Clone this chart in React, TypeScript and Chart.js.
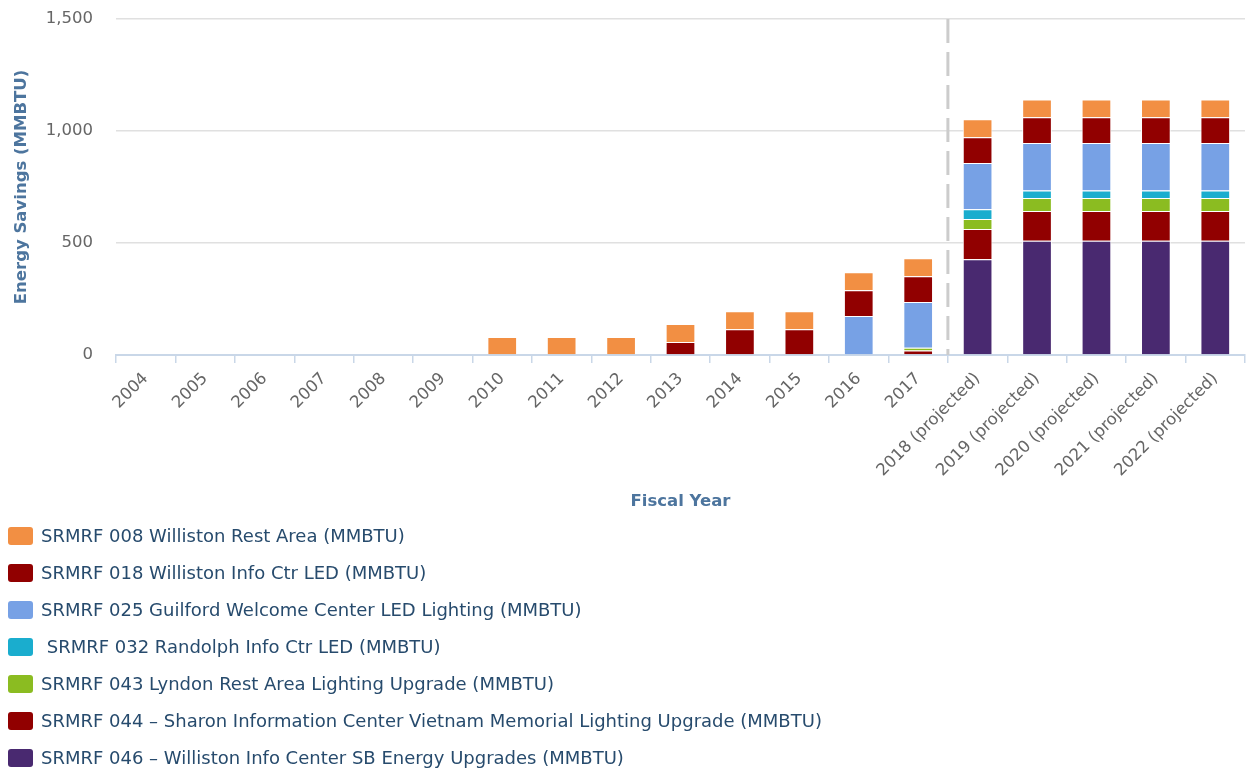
import React, { useEffect, useRef } from 'react';
import { Chart, registerables } from 'chart.js';

Chart.register(...registerables);

const categories = [
  '2004', '2005', '2006', '2007', '2008', '2009', '2010', '2011', '2012', '2013',
  '2014', '2015', '2016', '2017',
  '2018 (projected)', '2019 (projected)', '2020 (projected)', '2021 (projected)', '2022 (projected)',
];

// series values, one per category (MMBTU)
const s008 = [0, 0, 0, 0, 0, 0, 80, 80, 80, 80, 80, 80, 80, 80, 80, 80, 80, 80, 80];
const s018 = [0, 0, 0, 0, 0, 0, 0, 0, 0, 58, 115, 115, 115, 115, 115, 115, 115, 115, 115];
const s025 = [0, 0, 0, 0, 0, 0, 0, 0, 0, 0, 0, 0, 174, 205, 206, 212, 212, 212, 212];
const s032 = [0, 0, 0, 0, 0, 0, 0, 0, 0, 0, 0, 0, 0, 0, 44, 33, 33, 33, 33];
const s043 = [0, 0, 0, 0, 0, 0, 0, 0, 0, 0, 0, 0, 0, 12, 45, 58, 58, 58, 58];
const s044 = [0, 0, 0, 0, 0, 0, 0, 0, 0, 0, 0, 0, 0, 20, 134, 133, 133, 133, 133];
const s046 = [0, 0, 0, 0, 0, 0, 0, 0, 0, 0, 0, 0, 0, 0, 428, 510, 510, 510, 510];

const seriesLabels = [
  'SRMRF 008 Williston Rest Area (MMBTU)',
  'SRMRF 018 Williston Info Ctr LED (MMBTU)',
  'SRMRF 025 Guilford Welcome Center LED Lighting (MMBTU)',
  ' SRMRF 032 Randolph Info Ctr LED (MMBTU)',
  'SRMRF 043 Lyndon Rest Area Lighting Upgrade (MMBTU)',
  'SRMRF 044 \u2013 Sharon Information Center Vietnam Memorial Lighting Upgrade (MMBTU)',
  'SRMRF 046 \u2013 Williston Info Center SB Energy Upgrades (MMBTU)',
];
const seriesData = [s008, s018, s025, s032, s043, s044, s046];
const seriesColors = ['#f28f43', '#910000', '#77a1e5', '#1aadce', '#8bbc21', '#910000', '#492970'];

const yTicks = [0, 500, 1000, 1500];
const yTitle = 'Energy Savings (MMBTU)';
const xTitle = 'Fiscal Year';
const projectionStart = '2018 (projected)';

const FONT = '"DejaVu Sans", "Lucida Grande", Verdana, sans-serif';

const projectionLine = {
  id: 'projectionLine',
  beforeDatasetsDraw(chart: any) {
    const xs = chart.scales.x;
    const idx = categories.indexOf(projectionStart);
    const x = (xs.getPixelForValue(idx - 1) + xs.getPixelForValue(idx)) / 2;
    const { top, bottom } = chart.chartArea;
    const ctx = chart.ctx;
    ctx.save();
    ctx.strokeStyle = '#cccccc';
    ctx.lineWidth = 3;
    ctx.setLineDash([24, 9]);
    ctx.beginPath();
    ctx.moveTo(x, top);
    ctx.lineTo(x, bottom);
    ctx.stroke();
    ctx.restore();
  },
};

export default function App() {
  const ref = useRef<HTMLCanvasElement>(null);

  useEffect(() => {
    if (!ref.current) return;
    // Highcharts stacks the first series on top; Chart.js stacks the first dataset at the bottom.
    const datasets = seriesLabels
      .map((label, i) => ({
        label,
        data: seriesData[i],
        backgroundColor: seriesColors[i],
        borderColor: '#ffffff',
        borderWidth: 1,
        barPercentage: 0.5,
        categoryPercentage: 1,
      }))
      .reverse();

    const chart = new Chart(ref.current, {
      type: 'bar',
      data: { labels: categories, datasets },
      plugins: [projectionLine],
      options: {
        animation: false,
        responsive: false,
        layout: { padding: { top: 19, right: 2, left: 0, bottom: 0 } },
        plugins: {
          legend: { display: false },
          tooltip: { enabled: false },
        },
        scales: {
          x: {
            stacked: true,
            afterFit: (scale: any) => {
              scale.height = 165;
              scale.paddingTop = 0;
              scale.paddingBottom = 0;
            },
            grid: {
              display: true,
              drawOnChartArea: false,
              drawTicks: true,
              tickLength: 8,
              color: '#c9d7e8',
              lineWidth: 1.5,
            },
            border: { display: true, color: '#c9d7e8', width: 2 },
            ticks: {
              autoSkip: false,
              maxRotation: 45,
              minRotation: 45,
              padding: 6,
              color: '#666666',
              font: { family: FONT, size: 16.5 },
            },
            title: {
              display: true,
              text: xTitle,
              color: '#4d759e',
              font: { family: FONT, size: 16.5, weight: 'bold' },
              padding: { top: 0, bottom: 8 },
            },
          },
          y: {
            stacked: true,
            min: 0,
            max: 1500,
            afterFit: (scale: any) => {
              scale.width = 116;
              scale.paddingTop = 0;
              scale.paddingBottom = 0;
            },
            afterBuildTicks: (scale: any) => {
              scale.ticks = yTicks.map((v) => ({ value: v }));
            },
            grid: {
              color: '#e0e0e0',
              lineWidth: 1.5,
              drawTicks: false,
            },
            border: { display: false },
            ticks: {
              padding: 23,
              color: '#666666',
              font: { family: FONT, size: 16.5 },
              callback: (v: any) => Number(v).toLocaleString('en-US'),
            },
            title: {
              display: true,
              text: yTitle,
              color: '#4d759e',
              font: { family: FONT, size: 16.5, weight: 'bold' },
              padding: { top: 12, bottom: 0 },
            },
          },
        },
      },
    });
    return () => chart.destroy();
  }, []);

  return (
    <div
      style={{
        position: 'absolute',
        left: 0,
        top: 0,
        width: 1247,
        height: 770,
        background: '#ffffff',
        overflow: 'hidden',
      }}
    >
      <canvas ref={ref} width={1247} height={520} style={{ display: 'block' }} />
      <div style={{ position: 'absolute', left: 0, top: 517 }}>
        {seriesLabels.map((label, i) => (
          <div key={i} style={{ display: 'flex', alignItems: 'center', height: 37 }}>
            <div
              style={{
                marginLeft: 8,
                width: 25,
                height: 18,
                borderRadius: 3,
                background: seriesColors[i],
                flex: 'none',
              }}
            />
            <div
              style={{
                marginLeft: 8,
                fontFamily: FONT,
                fontSize: 18,
                color: '#274b6d',
                whiteSpace: 'pre',
              }}
            >
              {label}
            </div>
          </div>
        ))}
      </div>
    </div>
  );
}
